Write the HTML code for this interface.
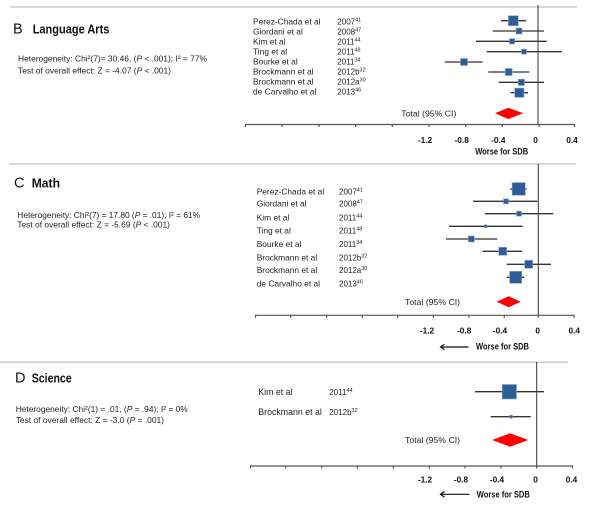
<!DOCTYPE html>
<html><head><meta charset="utf-8"><style>
html,body{margin:0;padding:0;background:#fff;}
svg{display:block;}
.t{font-family:"Liberation Sans",Arial,sans-serif;fill:#222;}
.n{font-size:8.4px;}
.y{font-size:8px;}
.s{font-size:5.5px;}
.tk{font-size:8.3px;font-weight:bold;fill:#111;}
.w{font-size:9px;font-weight:bold;fill:#111;}
.h{font-size:8.6px;}
.ti{font-size:13px;font-weight:bold;fill:#111;}
.L{font-size:14.5px;fill:#111;}
.sq{fill:#2E5D95;stroke:#8aa6cc;stroke-width:0.6;}
.ci{stroke:#333;stroke-width:1.3;}
.ax{stroke:#555;stroke-width:1.2;}
.z{stroke:#333;stroke-width:1;}
.sep{stroke:#cfcfcf;stroke-width:1.6;}
</style></head><body>
<svg width="602" height="507" viewBox="0 0 602 507" xmlns="http://www.w3.org/2000/svg">
<rect width="602" height="507" fill="#fff"/>

<!-- ===== Panel B ===== -->
<line class="sep" x1="10" y1="7" x2="577" y2="7"/>
<text class="t L" x="13" y="33.3">B</text>
<text class="t ti" x="32.7" y="33.3" textLength="76.7" lengthAdjust="spacingAndGlyphs">Language Arts</text>
<text class="t h" x="18" y="61.3" textLength="189" lengthAdjust="spacingAndGlyphs">Heterogeneity: Chi²(7)= 30.46, (<tspan font-style="italic">P</tspan> &lt; .001); I² = 77%</text>
<text class="t h" x="18" y="73.7" textLength="153" lengthAdjust="spacingAndGlyphs">Test of overall effect: Z = -4.07 (<tspan font-style="italic">P</tspan> &lt; .001)</text>

<g class="t n">
<text x="253" y="24.7">Perez-Chada et al</text>
<text x="253" y="34.7">Giordani et al</text>
<text x="253" y="44.7">Kim et al</text>
<text x="253" y="54.4">Ting et al</text>
<text x="253" y="64.4">Bourke et al</text>
<text x="253" y="74.4">Brockmann et al</text>
<text x="253" y="84.4">Brockmann et al</text>
<text x="253" y="94.4">de Carvalho et al</text>
</g>
<g class="t y">
<text x="337.3" y="24.7">2007<tspan class="s" dy="-3">41</tspan></text>
<text x="337.3" y="34.7">2008<tspan class="s" dy="-3">47</tspan></text>
<text x="337.3" y="44.7">2011<tspan class="s" dy="-3">44</tspan></text>
<text x="337.3" y="54.4">2011<tspan class="s" dy="-3">48</tspan></text>
<text x="337.3" y="64.4">2011<tspan class="s" dy="-3">34</tspan></text>
<text x="337.3" y="74.4">2012b<tspan class="s" dy="-3">32</tspan></text>
<text x="337.3" y="84.4">2012a<tspan class="s" dy="-3">30</tspan></text>
<text x="337.3" y="94.4">2013<tspan class="s" dy="-3">46</tspan></text>
</g>
<text class="t" x="401.3" y="116.5" font-size="8.7">Total (95% CI)</text>

<line class="z" x1="538" y1="5" x2="538" y2="125"/>
<g class="ci">
<line x1="501" y1="20.7" x2="526" y2="20.7"/>
<line x1="492.7" y1="31" x2="544" y2="31"/>
<line x1="476" y1="41.3" x2="546.7" y2="41.3"/>
<line x1="486.7" y1="51.7" x2="561.7" y2="51.7"/>
<line x1="444.7" y1="62" x2="482.7" y2="62"/>
<line x1="488.3" y1="72" x2="529.3" y2="72"/>
<line x1="498.7" y1="82.3" x2="544" y2="82.3"/>
<line x1="510.7" y1="92.7" x2="528" y2="92.7"/>
</g>
<rect class="sq" x="508.3" y="15.7" width="10" height="10"/>
<rect class="sq" x="516" y="28" width="6" height="6"/>
<rect class="sq" x="509.4" y="38.7" width="5.3" height="5.3"/>
<rect class="sq" x="521.5" y="49.2" width="5" height="5"/>
<rect class="sq" x="460.5" y="58.5" width="7" height="7"/>
<rect class="sq" x="505.2" y="68.5" width="7" height="7"/>
<rect class="sq" x="518.2" y="79.2" width="6.3" height="6.3"/>
<rect class="sq" x="514.7" y="88.1" width="9.3" height="9.3"/>
<polygon points="495,113.3 508.3,107.7 523.3,113.3 508.3,119" fill="#ff0000"/>

<line class="ax" x1="245" y1="124.5" x2="575" y2="124.5"/>
<g class="ax">
<line x1="245.5" y1="124" x2="245.5" y2="127"/>
<line x1="282" y1="124" x2="282" y2="127"/>
<line x1="319" y1="124" x2="319" y2="127"/>
<line x1="355.7" y1="124" x2="355.7" y2="127"/>
<line x1="392.3" y1="124" x2="392.3" y2="127"/>
<line x1="429" y1="124" x2="429" y2="127"/>
<line x1="465.7" y1="124" x2="465.7" y2="127"/>
<line x1="502.3" y1="124" x2="502.3" y2="127"/>
<line x1="539" y1="124" x2="539" y2="127"/>
<line x1="574.5" y1="124" x2="574.5" y2="127"/>
</g>
<g class="t tk" text-anchor="middle">
<text x="425" y="143">-1.2</text>
<text x="461.7" y="143">-0.8</text>
<text x="498.3" y="143">-0.4</text>
<text x="535.5" y="143">0</text>
<text x="572" y="143">0.4</text>
</g>
<text class="t w" x="501.7" y="154.3" text-anchor="middle" textLength="53" lengthAdjust="spacingAndGlyphs">Worse for SDB</text>

<!-- ===== Panel C ===== -->
<line class="sep" x1="9" y1="163.8" x2="576" y2="163.8"/>
<text class="t L" x="14" y="187.7">C</text>
<text class="t ti" x="31.7" y="187.7" textLength="28.3" lengthAdjust="spacingAndGlyphs">Math</text>
<text class="t h" x="17.3" y="218" textLength="182.7" lengthAdjust="spacingAndGlyphs">Heterogeneity: Chi²(7) = 17.80 (<tspan font-style="italic">P</tspan> = .01); I² = 61%</text>
<text class="t h" x="17.3" y="227.3" textLength="152.7" lengthAdjust="spacingAndGlyphs">Test of overall effect: Z = -5.69 (<tspan font-style="italic">P</tspan> &lt; .001)</text>

<g class="t n">
<text x="256.7" y="194.7">Perez-Chada et al</text>
<text x="256.7" y="206.7">Giordani et al</text>
<text x="256.7" y="220.3">Kim et al</text>
<text x="256.7" y="233.7">Ting et al</text>
<text x="256.7" y="247">Bourke et al</text>
<text x="256.7" y="260.3">Brockmann et al</text>
<text x="256.7" y="273">Brockmann et al</text>
<text x="256.7" y="286.3">de Carvalho et al</text>
</g>
<g class="t y">
<text x="339" y="194.7">2007<tspan class="s" dy="-3">41</tspan></text>
<text x="339" y="206.7">2008<tspan class="s" dy="-3">47</tspan></text>
<text x="339" y="220.3">2011<tspan class="s" dy="-3">44</tspan></text>
<text x="339" y="233.7">2011<tspan class="s" dy="-3">48</tspan></text>
<text x="339" y="247">2011<tspan class="s" dy="-3">34</tspan></text>
<text x="339" y="260.3">2012b<tspan class="s" dy="-3">32</tspan></text>
<text x="339" y="273">2012a<tspan class="s" dy="-3">30</tspan></text>
<text x="339" y="286.3">2013<tspan class="s" dy="-3">46</tspan></text>
</g>
<text class="t" x="405" y="304.8" font-size="8.7">Total (95% CI)</text>

<line class="z" x1="538.3" y1="164" x2="538.3" y2="315"/>
<g class="ci">
<line x1="510" y1="189" x2="526.7" y2="189"/>
<line x1="473" y1="201.3" x2="537.3" y2="201.3"/>
<line x1="485" y1="213.7" x2="553.3" y2="213.7"/>
<line x1="449" y1="226.3" x2="522.7" y2="226.3"/>
<line x1="446" y1="239" x2="497.3" y2="239"/>
<line x1="482.3" y1="251.3" x2="522.3" y2="251.3"/>
<line x1="506.7" y1="264.3" x2="551" y2="264.3"/>
<line x1="506.7" y1="277.3" x2="524.3" y2="277.3"/>
</g>
<rect class="sq" x="512.1" y="182.6" width="13.2" height="12.7"/>
<rect class="sq" x="503.5" y="198.8" width="5" height="5"/>
<rect class="sq" x="516.5" y="211.2" width="5" height="5"/>
<rect class="sq" x="484.2" y="224.8" width="3" height="3"/>
<rect class="sq" x="468.3" y="236" width="6" height="6"/>
<rect class="sq" x="498.7" y="247.3" width="8" height="8"/>
<rect class="sq" x="524.7" y="260.3" width="8" height="8"/>
<rect class="sq" x="509.7" y="271.3" width="12" height="12"/>
<polygon points="496.7,301.7 508.7,296.2 520.7,301.7 508.7,307.2" fill="#ff0000"/>

<line class="ax" x1="255" y1="315.3" x2="574.5" y2="315.3"/>
<g class="ax">
<line x1="255.5" y1="314.8" x2="255.5" y2="317.8"/>
<line x1="290.7" y1="314.8" x2="290.7" y2="317.8"/>
<line x1="326.7" y1="314.8" x2="326.7" y2="317.8"/>
<line x1="362.3" y1="314.8" x2="362.3" y2="317.8"/>
<line x1="397.7" y1="314.8" x2="397.7" y2="317.8"/>
<line x1="433.3" y1="314.8" x2="433.3" y2="317.8"/>
<line x1="469" y1="314.8" x2="469" y2="317.8"/>
<line x1="504.3" y1="314.8" x2="504.3" y2="317.8"/>
<line x1="538.3" y1="314.8" x2="538.3" y2="317.8"/>
<line x1="574" y1="314.8" x2="574" y2="317.8"/>
</g>
<g class="t tk" text-anchor="middle">
<text x="427" y="333.3">-1.2</text>
<text x="464.2" y="333.3">-0.8</text>
<text x="500" y="333.3">-0.4</text>
<text x="537.7" y="333.3">0</text>
<text x="574.3" y="333.3">0.4</text>
</g>
<g stroke="#111" stroke-width="1.2" fill="none">
<line x1="440.5" y1="347" x2="468.5" y2="347"/>
<polyline points="444.5,344.2 440.5,347 444.5,349.8"/>
</g>
<text class="t w" x="502.5" y="349.6" text-anchor="middle" textLength="53" lengthAdjust="spacingAndGlyphs">Worse for SDB</text>

<!-- ===== Panel D ===== -->
<line class="sep" x1="0" y1="362.3" x2="568" y2="362.3"/>
<text class="t L" x="15" y="382.3">D</text>
<text class="t ti" x="31.7" y="382.3" textLength="40" lengthAdjust="spacingAndGlyphs">Science</text>
<text class="t h" x="15.7" y="412" textLength="172" lengthAdjust="spacingAndGlyphs">Heterogeneity: Chi²(1) = .01, (<tspan font-style="italic">P</tspan> = .94); I² = 0%</text>
<text class="t h" x="15.7" y="423" textLength="148.3" lengthAdjust="spacingAndGlyphs">Test of overall effect: Z = -3.0 (<tspan font-style="italic">P</tspan> = .001)</text>

<g class="t" font-size="8.8">
<text x="258.3" y="394.8">Kim et al</text>
<text x="258.3" y="414.8">Brockmann et al</text>
</g>
<g class="t y">
<text x="329.3" y="394.8">2011<tspan class="s" dy="-3">44</tspan></text>
<text x="329.3" y="414.8">2012b<tspan class="s" dy="-3">32</tspan></text>
</g>
<text class="t" x="405" y="443.1" font-size="8.7">Total (95% CI)</text>

<line class="z" x1="536.7" y1="362" x2="536.7" y2="466"/>
<g class="ci">
<line x1="475" y1="391.7" x2="544" y2="391.7"/>
<line x1="490.7" y1="416.7" x2="530.7" y2="416.7"/>
</g>
<rect class="sq" x="502.2" y="384.5" width="14.3" height="14.5"/>
<rect class="sq" x="509.5" y="415.2" width="3" height="3"/>
<polygon points="492.3,440 510,433.3 528.3,440 510,446.7" fill="#ff0000"/>

<line class="ax" x1="250" y1="466" x2="573" y2="466"/>
<g class="ax">
<line x1="250.5" y1="465.5" x2="250.5" y2="468.5"/>
<line x1="285.7" y1="465.5" x2="285.7" y2="468.5"/>
<line x1="321.7" y1="465.5" x2="321.7" y2="468.5"/>
<line x1="357.3" y1="465.5" x2="357.3" y2="468.5"/>
<line x1="393.3" y1="465.5" x2="393.3" y2="468.5"/>
<line x1="429.3" y1="465.5" x2="429.3" y2="468.5"/>
<line x1="465" y1="465.5" x2="465" y2="468.5"/>
<line x1="501" y1="465.5" x2="501" y2="468.5"/>
<line x1="536.7" y1="465.5" x2="536.7" y2="468.5"/>
<line x1="572.5" y1="465.5" x2="572.5" y2="468.5"/>
</g>
<g class="t tk" text-anchor="middle">
<text x="425" y="482.3">-1.2</text>
<text x="461" y="482.3">-0.8</text>
<text x="497" y="482.3">-0.4</text>
<text x="535.5" y="482.3">0</text>
<text x="571.5" y="482.3">0.4</text>
</g>
<g stroke="#111" stroke-width="1.2" fill="none">
<line x1="440.5" y1="494.3" x2="469.5" y2="494.3"/>
<polyline points="444.5,491.5 440.5,494.3 444.5,497.1"/>
</g>
<text class="t w" x="503.3" y="497.3" text-anchor="middle" textLength="53" lengthAdjust="spacingAndGlyphs">Worse for SDB</text>
</svg>
</body></html>
